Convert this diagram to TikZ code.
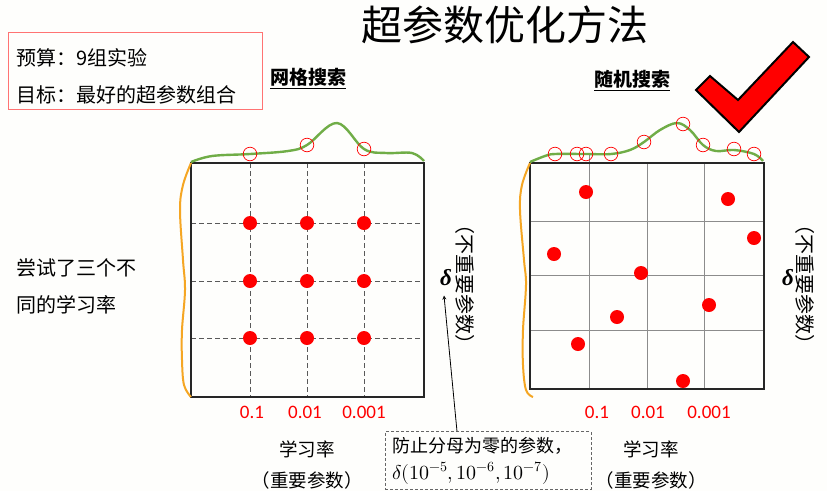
\documentclass[tikz,border=0pt]{standalone}
\usepackage{amsmath}
\usepackage{fontspec}
\usepackage{unicode-math}
\setmainfont{Noto Sans CJK SC}
\setmathfont{Latin Modern Math}
\newfontfamily\numfont{Carlito}
\newfontfamily\grkfont{Liberation Serif}
\usetikzlibrary{positioning}
\definecolor{curvegreen}{RGB}{112,173,71}
\definecolor{curveorange}{RGB}{245,166,35}
\definecolor{dotred}{RGB}{255,0,0}
\definecolor{paper}{RGB}{254,254,252}
\tikzset{
every path/.style={line width=0.8pt}
, every node/.style={font=\fontsize{20}{24}\selectfont,inner sep=0}
, boxline/.style={line width=2pt,color=black!85}
, griddash/.style={color=black!65,dash pattern=on 5pt off 3pt,line width=1pt}
, gridsolid/.style={color=black!45,line width=1pt}
, perfcurve/.style={color=curvegreen,line width=2.4pt}
, impcurve/.style={color=curveorange,line width=2pt}
, trial/.style={fill=dotred}
, probe/.style={draw=dotred,line width=0.7pt}
, tickval/.style={font=\numfont\fontsize{19}{22}\selectfont,color=dotred}
, axislabel/.style={font=\fontsize{18.5}{22}\selectfont}
, methodtitle/.style={font=\bfseries\fontsize{19}{22}\selectfont}
, sidelabel/.style={font=\fontsize{20}{24}\selectfont,rotate=-90}
, deltavar/.style={font=\grkfont\bfseries\itshape\fontsize{23}{26}\selectfont}
, notebox/.style={draw=black!60,dash pattern=on 3pt off 2pt,line width=1pt,inner xsep=7,inner ysep=5,text width=192,align=left,font=\fontsize{18}{27}\selectfont}
, budgetbox/.style={draw=red!55,line width=1pt,minimum width=254,minimum height=77}}
\def\lr{学习率}
\def\imp{（重要参数）}
\def\unimp{（不重要参数）}

\begin{document}
\begin{tikzpicture}[x=1pt,y=-1pt]
\fill[paper] (0,0) rectangle (827,491);
\node[font=\fontsize{41}{48}\selectfont] (title) at (505,25) {超参数优化方法};
\node[budgetbox] (budget) at (135,70.5) {};
\node[anchor=west] (bud1) at (16,58) {预算：9组实验};
\node[anchor=west] (bud2) at (16,95) {目标：最好的超参数组合};
\node[anchor=west,align=left,font=\fontsize{20}{37}\selectfont] (tried) at (16,286.5) {尝试了三个不\\同的\lr};
\node[methodtitle] (gridT) at (308,79) {\underline{网格搜索}};
\node[methodtitle] (randT) at (632,81) {\underline{随机搜索}};
\draw[fill=dotred,line width=2pt] (696,90) -- (710,76) -- (738,100) -- (793,42) -- (809,57) -- (739,132) -- cycle;
% grid search
\draw[griddash] (250,163) -- (250,397) (307,163) -- (307,397) (364,163) -- (364,397);
\draw[griddash] (191,223) -- (424,223) (191,281) -- (424,281) (191,338) -- (424,338);
\draw[boxline] (191,163) rectangle (424,397);
\fill[trial] (250,223) circle (7pt) (307,223) circle (7pt) (364,223) circle (7pt)
 (250,281) circle (7pt) (307,281) circle (7pt) (364,281) circle (7pt)
 (250,338) circle (7pt) (307,338) circle (7pt) (364,338) circle (7pt);
\draw[perfcurve] plot[smooth,tension=0.6] coordinates {(191,162) (212,156) (250,154) (288,151) (307,145) (337,123) (364,149) (386,153) (412,153) (424,161)};
\draw[probe] (250,154) circle (6.8pt) (307,145) circle (6.8pt) (364,149) circle (6.8pt);
\draw[impcurve] plot[smooth,tension=0.6] coordinates {(191,163) (183,185) (180,210) (183,260) (185,290) (182,330) (182,360) (184,385) (191,397)};
% random search
\draw[gridsolid] (589,155) -- (589,389) (647,163) -- (647,389) (704,163) -- (704,389);
\draw[gridsolid] (530,221) -- (764,221) (530,275) -- (764,275) (530,330) -- (764,330);
\draw[boxline] (530,163) rectangle (764,389);
\fill[trial] (586,192) circle (7pt) (728,199) circle (7pt) (754,238) circle (7pt)
 (554,254) circle (7pt) (641,273) circle (7pt) (709,305) circle (7pt)
 (617,317) circle (7pt) (578,344) circle (7pt) (683,381) circle (7pt);
\draw[perfcurve] plot[smooth,tension=0.6] coordinates {(530,162) (545,156) (555,154) (585,154) (611,154) (630,150) (644,142) (660,130) (677,123) (690,130) (703,145) (716,151) (734,150) (754,154) (763,161)};
\draw[probe] (555,154) circle (6.8pt) (577,154) circle (6.8pt) (586,154) circle (6.8pt)
 (611,154) circle (6.8pt) (644,142) circle (6.8pt) (683,124) circle (6.8pt)
 (703,145) circle (6.8pt) (734,149) circle (6.8pt) (754,154) circle (6.8pt);
\draw[impcurve] plot[smooth,tension=0.6] coordinates {(530,163) (522,185) (520,210) (524,260) (526,285) (523,330) (523,365) (526,390) (533,397)};
% axes
\node[tickval] (l1) at (252,412) {0.1};
\node[tickval] (l2) at (305,412) {0.01};
\node[tickval] (l3) at (364,412) {0.001};
\node[tickval] (r1) at (597,412) {0.1};
\node[tickval] (r2) at (648,412) {0.01};
\node[tickval] (r3) at (709,412) {0.001};
\node[axislabel] (lrL) at (307,449) {\lr};
\node[axislabel,below=13pt of lrL] (impL) {\imp};
\node[axislabel] (lrR) at (651,449) {\lr};
\node[axislabel,below=13pt of lrR] (impR) {\imp};
\node[deltavar] (dL) at (446,278) {δ};
\node[sidelabel] (sideL) at (465,284) {\unimp};
\node[deltavar] (dR) at (788,278) {δ};
\node[sidelabel] (sideR) at (805,284) {\unimp};
\node[notebox] (note) at (488,460.5) {防止分母为零的参数，\\{\fontsize{20}{27}\selectfont$\delta(10^{-5},10^{-6},10^{-7})$}};
\draw [-stealth] ([xshift=-31pt]note.north) -- ([xshift=-2pt,yshift=-9pt]dL.south);
\end{tikzpicture}
\end{document}
